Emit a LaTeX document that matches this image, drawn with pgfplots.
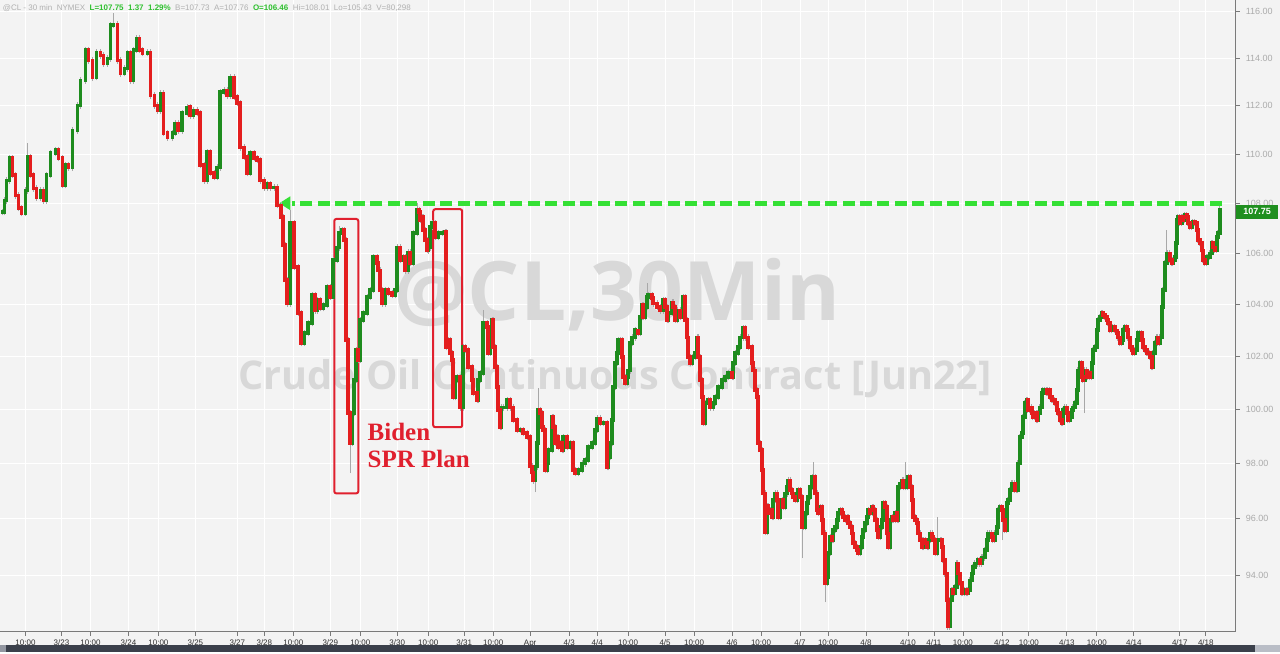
\documentclass[border=0pt]{standalone}
\usepackage{pgfplots}
\usepackage{pgfplotstable}
\pgfplotsset{compat=1.18}
\usepackage{fontspec}
\setmainfont{Liberation Sans}
\newfontfamily\wmfont{Open Sans}
\newfontfamily\annofont{Liberation Serif}

\definecolor{pagebg}{HTML}{F3F3F3}
\definecolor{axgray}{HTML}{7A7A7A}
\definecolor{ylab}{HTML}{ABABAB}
\definecolor{xlab}{HTML}{2E2E2E}
\definecolor{upg}{HTML}{1E8C1E}
\definecolor{dnr}{HTML}{E41E1E}
\definecolor{wick}{HTML}{A8A8A8}
\definecolor{wm}{HTML}{D8D8D8}
\definecolor{anno}{HTML}{E0202E}
\definecolor{dashg}{HTML}{35E035}
\definecolor{boxg}{HTML}{1F8F1F}
\definecolor{hdrgray}{HTML}{B0B0B0}
\definecolor{hdrgreen}{HTML}{30C030}
\definecolor{darkbar}{HTML}{3B404B}
\definecolor{thumb}{HTML}{B9BDC6}

% vertical stroke from \bl to \bh (pt) relative to the point
\pgfdeclareplotmark{vseg}{%
  \pgfpathmoveto{\pgfqpoint{0pt}{\bl pt}}%
  \pgfpathlineto{\pgfqpoint{0pt}{\bh pt}}%
  \pgfusepathqstroke}

% 30-min closes of @CL, x = bar position along the time axis
\pgfplotstableread{
x c
2 107.64
4 108.12
6 108.93
9 109.83
12 109.14
15 108.32
18 107.80
21 107.60
25 108.52
27 109.87
30 109.14
33 108.60
36 108.24
40 108.52
43 108.12
46 109.14
50 110.04
55 110.16
58 109.83
62 108.73
65 109.55
68 109.46
72 110.98
77 112.02
80 113.07
85 114.35
88 113.92
92 113.20
96 114.26
100 114.13
103 113.79
107 114.00
110 115.42
113 115.46
117 113.92
120 113.37
124 113.58
127 114.22
130 113.07
133 114.35
136 114.86
139 114.35
142 114.22
147 114.26
150 112.44
154 112.02
157 111.81
160 112.52
163 110.86
167 110.69
172 110.86
175 111.27
178 110.98
182 111.69
187 111.94
190 111.60
193 111.81
197 111.69
200 109.55
204 108.93
207 110.08
210 109.22
214 109.06
217 109.46
220 112.57
224 112.65
227 112.44
230 113.20
234 112.36
237 112.11
240 110.28
244 109.87
247 109.22
250 110.04
254 109.83
257 109.75
260 108.93
264 108.64
267 108.77
270 108.64
274 108.64
277 107.92
281 107.44
283 106.32
285 104.94
287 104.04
290 107.20
294 105.45
298 103.66
301 102.51
304 102.89
308 103.27
312 104.36
315 103.77
317 104.16
320 103.85
323 103.97
327 104.67
330 104.28
333 105.73
337 106.24
339 106.80
342 106.92
344 106.52
346 102.62
348 99.86
350 98.75
352 99.86
354 101.10
356 102.24
358 101.85
360 103.39
363 103.66
367 104.28
370 104.55
373 105.85
377 105.61
378 105.33
380 104.55
382 104.04
385 104.55
388 104.44
392 104.36
395 104.55
397 106.24
400 105.73
403 105.85
405 105.33
408 106.04
410 105.61
413 106.80
417 107.72
419 107.64
420 107.32
422 107.44
423 106.92
425 106.52
427 106.12
428 106.24
430 107.04
432 107.20
435 106.64
438 106.80
442 106.80
445 106.84
446 102.35
448 102.62
450 102.12
452 101.85
453 100.46
455 101.10
457 101.21
460 100.08
463 102.35
465 102.24
468 101.59
472 101.10
473 100.61
477 100.35
478 101.10
480 101.36
483 103.27
487 103.12
488 102.12
490 103.12
492 103.39
493 102.35
495 101.59
497 100.83
498 99.97
500 99.34
501 100.08
503 100.08
507 100.35
510 100.08
513 99.60
517 99.23
520 99.23
523 99.12
527 98.97
530 97.89
532 97.67
533 97.39
535 97.89
537 98.75
538 99.97
540 99.86
542 99.34
543 99.23
545 97.76
547 98.01
548 98.49
552 99.71
553 99.34
555 98.75
557 98.97
558 98.60
560 98.75
562 98.49
563 98.97
567 98.60
570 98.75
573 97.76
575 97.65
578 97.76
582 98.01
585 98.12
588 98.60
592 98.75
595 99.23
597 99.67
600 99.49
603 99.49
607 97.87
608 98.23
610 98.75
612 99.60
613 100.83
615 101.74
617 102.12
618 102.62
620 102.62
622 101.97
623 101.21
625 100.99
627 101.21
628 101.47
630 102.51
632 102.73
635 103.00
638 102.89
640 103.50
642 103.97
643 103.50
645 103.89
647 104.28
648 104.36
652 104.24
653 104.04
657 103.89
660 103.77
663 104.16
665 103.89
667 103.39
668 103.66
672 104.08
673 103.89
675 103.39
677 103.77
680 103.50
683 104.28
685 103.39
687 102.73
688 101.97
690 101.74
692 101.97
695 102.12
697 102.73
698 101.97
700 101.10
702 100.46
703 99.49
705 100.23
708 100.35
710 100.08
713 100.23
715 100.46
718 100.83
722 101.10
725 101.21
728 101.36
732 101.21
733 101.74
735 102.12
738 102.35
740 102.73
743 103.08
745 102.73
748 102.35
752 101.74
753 101.47
755 100.72
757 100.46
758 98.75
760 98.49
762 97.76
763 96.92
765 95.52
767 96.45
768 96.20
770 96.31
772 96.06
773 96.67
775 96.92
777 96.67
778 96.06
780 96.56
782 96.67
783 96.42
785 96.92
787 97.14
788 97.39
790 97.03
792 96.92
793 96.78
795 96.67
797 96.92
798 97.03
800 96.78
802 95.70
803 95.70
805 96.20
807 96.56
808 96.78
810 97.14
812 97.50
813 97.50
815 96.92
817 96.31
818 96.20
820 96.42
822 95.95
823 95.48
825 93.72
827 93.93
828 94.77
830 95.35
832 95.24
833 95.59
835 95.70
837 95.95
838 96.20
840 96.31
842 96.20
843 96.06
845 95.95
847 96.06
848 95.84
850 95.70
852 95.48
853 95.13
855 94.99
857 94.88
858 94.77
860 94.99
862 95.35
863 95.59
865 95.84
867 96.06
868 96.31
870 96.20
872 96.42
873 96.31
875 95.95
877 95.59
878 95.35
880 95.70
882 95.95
883 96.56
885 96.42
887 95.48
888 94.99
890 95.95
892 96.06
893 95.95
895 96.20
897 95.95
898 97.14
900 97.28
902 97.39
903 97.14
905 97.14
907 97.39
908 97.50
910 97.14
912 96.67
913 96.06
915 95.95
917 95.84
918 95.48
920 95.24
922 94.99
923 95.24
925 95.13
927 94.99
928 95.24
930 95.48
932 95.35
933 95.24
935 94.77
937 95.24
940 95.24
942 94.99
943 94.53
945 94.06
947 93.13
948 92.22
950 93.13
952 93.48
953 93.37
955 93.58
957 94.42
958 94.06
960 93.72
962 93.37
963 93.37
965 93.48
967 93.37
968 93.48
970 93.82
972 94.06
973 94.28
975 94.42
977 94.42
978 94.53
980 94.42
982 94.63
983 94.63
985 94.88
987 95.24
988 95.48
990 95.48
992 95.35
993 95.24
995 95.48
997 95.70
998 96.31
1000 96.42
1002 96.31
1003 95.95
1005 95.59
1007 96.56
1008 96.67
1010 97.03
1012 97.28
1013 97.28
1015 97.03
1017 97.03
1018 98.01
1020 98.97
1022 99.12
1023 99.71
1025 100.23
1027 100.35
1028 99.97
1030 100.08
1032 99.86
1033 99.71
1035 99.86
1037 99.60
1038 99.86
1040 100.08
1042 100.61
1043 100.72
1045 100.72
1047 100.61
1048 100.72
1050 100.46
1052 100.35
1053 100.35
1055 100.23
1057 99.97
1058 99.86
1060 99.60
1062 99.49
1063 99.97
1065 100.08
1067 99.86
1068 99.60
1070 99.71
1072 99.97
1073 100.08
1075 100.23
1077 100.72
1078 101.47
1080 101.74
1082 101.21
1083 101.10
1085 101.47
1087 101.21
1088 101.36
1090 101.21
1092 101.74
1093 102.24
1095 102.35
1097 103.00
1098 103.39
1100 103.50
1102 103.66
1103 103.58
1105 103.50
1107 103.39
1108 103.27
1110 103.00
1112 103.12
1113 103.12
1115 103.00
1117 102.89
1118 102.73
1120 102.51
1122 102.62
1123 103.00
1125 103.12
1127 103.00
1128 102.73
1130 102.35
1132 102.24
1133 102.12
1135 102.24
1137 102.62
1138 102.89
1140 102.89
1142 102.62
1143 102.35
1145 102.24
1147 102.12
1148 102.12
1150 101.97
1152 101.59
1153 102.12
1155 102.51
1157 102.73
1158 102.51
1160 102.73
1162 103.89
1163 104.55
1165 105.61
1167 106.00
1168 106.00
1170 105.73
1172 105.61
1173 105.73
1175 105.85
1176 106.40
1177 107.32
1178 107.44
1180 107.20
1182 107.44
1183 107.32
1185 107.52
1187 107.44
1188 107.20
1190 107.04
1192 107.20
1193 107.24
1195 107.20
1197 106.92
1198 106.52
1200 106.40
1202 106.12
1203 105.73
1205 105.61
1207 105.85
1208 105.85
1210 106.00
1212 106.40
1213 106.24
1215 106.12
1217 106.64
1218 106.80
1220 107.75
}\cl

% the long wicks that stand out
\pgfplotstableread{
x lo hi
27 109.80 110.45
113 115.40 115.95
290 107.20 107.72
339 106.80 107.10
350 97.65 98.75
417 107.72 108.00
483 103.27 103.80
535 96.96 97.89
538 99.97 100.80
647 104.28 104.85
802 94.60 95.70
813 97.50 98.05
825 93.06 93.72
905 97.14 98.05
937 95.24 96.06
1003 95.24 95.95
1085 99.86 101.47
1167 106.00 106.92
}\wicks

% open of each bar = close of the bar before
\xdef\prevc{107.64}
\pgfplotstablecreatecol[
  create col/assign/.code={%
    \getthisrow{c}\curc
    \pgfkeyslet{/pgfplots/table/create col/next content}\prevc
    \xdef\prevc{\curc}%
  }]{o}\cl

% pt per unit of ln(price): 316pt / ln(116.5/92.03)
\def\lnunit{1340.2}

\begin{document}
% 1 unit = 0.5pt = one pixel of the reference
\begin{tikzpicture}[x=0.5pt, y=0.5pt]
  \fill[pagebg] (0,0) rectangle (1280,652);
  \begin{axis}[
    at={(0pt,10pt)}, anchor=south west,
    width=618pt, height=316pt, scale only axis,
    xmin=0, xmax=1236,
    ymode=log, ymin=92.03, ymax=116.5,
    axis x line*=bottom, axis y line*=right,
    axis line style={draw=axgray, line width=0.5pt},
    tick style={draw=axgray, line width=0.4pt},
    tick align=outside, major tick length=2pt,
    grid=major, grid style={draw=white, line width=0.5pt},
    xtick={25,61,90,128,158,195,237,264,293,330,360,397,428,464,493,530,569,597,628,665,694,732,761,800,828,866,908,934,963,1002,1029,1067,1097,1134,1180,1206},
    xticklabels={10:00,3/23,10:00,3/24,10:00,3/25,3/27,3/28,10:00,3/29,10:00,3/30,10:00,3/31,10:00,Apr,4/3,4/4,10:00,4/5,10:00,4/6,10:00,4/7,10:00,4/8,4/10,4/11,10:00,4/12,10:00,4/13,10:00,4/14,4/17,4/18},
    ytick={94,96,98,100,102,104,106,108,110,112,114,116},
    yticklabels={94.00,96.00,98.00,100.00,102.00,104.00,106.00,108.00,110.00,112.00,114.00,116.00},
    xticklabel style={font=\fontsize{4}{4.5}\selectfont, text=xlab, yshift=1.5pt},
    yticklabel style={font=\fontsize{4.5}{5}\selectfont, text=ylab, xshift=-0.5pt},
    minor tick num=0,
  ]
  % watermark
  \node[font=\wmfont\bfseries\fontsize{41}{41}\selectfont, text=wm]
    at (axis cs:617,104.38) {@CL,30Min};
  \node[font=\wmfont\bfseries\fontsize{19.8}{19.8}\selectfont, text=wm]
    at (axis cs:615,101.17) {Crude Oil Continuous Contract [Jun22]};

  % wicks
  \addplot[only marks, scatter, mark=vseg, forget plot,
    scatter/use mapped color={draw=wick},
    mark options={line width=0.45pt},
    visualization depends on={\lnunit*(ln(min(\thisrow{o},\thisrow{c}))-ln(\thisrow{c}))-1.6 \as \bl},
    visualization depends on={\lnunit*(ln(max(\thisrow{o},\thisrow{c}))-ln(\thisrow{c}))+1.6 \as \bh}]
    table[x=x, y=c] {\cl};
  \addplot[only marks, scatter, mark=vseg, forget plot,
    scatter/use mapped color={draw=wick},
    mark options={line width=0.45pt},
    visualization depends on={0 \as \bl},
    visualization depends on={\lnunit*(ln(\thisrow{hi})-ln(\thisrow{lo})) \as \bh}]
    table[x=x, y=lo] {\wicks};

  % rising bars
  \addplot[only marks, scatter, mark=vseg, forget plot,
    restrict expr to domain={\thisrow{c}-\thisrow{o}}{0:100},
    scatter/use mapped color={draw=upg},
    mark options={line width=1.9pt},
    visualization depends on={\lnunit*(ln(\thisrow{o})-ln(\thisrow{c}))-0.9 \as \bl},
    visualization depends on={0.9 \as \bh}]
    table[x=x, y=c] {\cl};
  % falling bars
  \addplot[only marks, scatter, mark=vseg, forget plot,
    restrict expr to domain={\thisrow{o}-\thisrow{c}}{0.00001:100},
    scatter/use mapped color={draw=dnr},
    mark options={line width=1.9pt},
    visualization depends on={-0.9 \as \bl},
    visualization depends on={\lnunit*(ln(\thisrow{o})-ln(\thisrow{c}))+0.9 \as \bh}]
    table[x=x, y=c] {\cl};

  % resistance line
  \draw[dashg, line width=2.5pt, dash pattern=on 6pt off 2.75pt]
    (axis cs:1222,108) -- (axis cs:292,108);
  \fill[dashg] (axis cs:279,108) -- ++(5.5pt,3.5pt) -- ++(0pt,-7pt) -- cycle;

  % annotation
  \draw[anno, line width=1pt, rounded corners=1pt]
    (axis cs:334,107.37) rectangle (axis cs:358,96.92);
  \draw[anno, line width=1pt, rounded corners=1pt]
    (axis cs:433,107.76) rectangle (axis cs:462,99.34);
  \node[anchor=base west, inner sep=0pt, text=anno,
    font=\annofont\bfseries\fontsize{12.5}{12.5}\selectfont]
    at (axis cs:367,98.86) {Biden};
  \node[anchor=base west, inner sep=0pt, text=anno,
    font=\annofont\bfseries\fontsize{12.5}{12.5}\selectfont]
    at (axis cs:367,97.87) {SPR Plan};

  \coordinate (last) at (axis cs:1236,107.75);
  \end{axis}

  % last price tag
  \node[anchor=west, fill=boxg, text=white, inner sep=0pt,
    minimum width=21pt, minimum height=7pt,
    font=\bfseries\fontsize{4.5}{5}\selectfont] at ([yshift=-1pt]last) {107.75};

  % quote line
  \node[anchor=base west, inner sep=0pt, font=\fontsize{4}{4.5}\selectfont]
    at (2,642) {\textcolor{hdrgray}{@CL - 30 min\ \ NYMEX}\ \ %
    \textcolor{hdrgreen}{\bfseries L=107.75\ \ 1.37\ \ 1.29\%}\ \ %
    \textcolor{hdrgray}{B=107.73\ \ A=107.76}\ \ %
    \textcolor{hdrgreen}{\bfseries O=106.46}\ \ %
    \textcolor{hdrgray}{Hi=108.01\ \ Lo=105.43\ \ V=80,298}};

  % scroll bar
  \fill[darkbar] (0,0) rectangle (1280,7);
  \fill[thumb] (1255,0) rectangle (1280,7);
  \fill[thumb!70!darkbar] (0,0) rectangle (6,7);
\end{tikzpicture}
\end{document}
